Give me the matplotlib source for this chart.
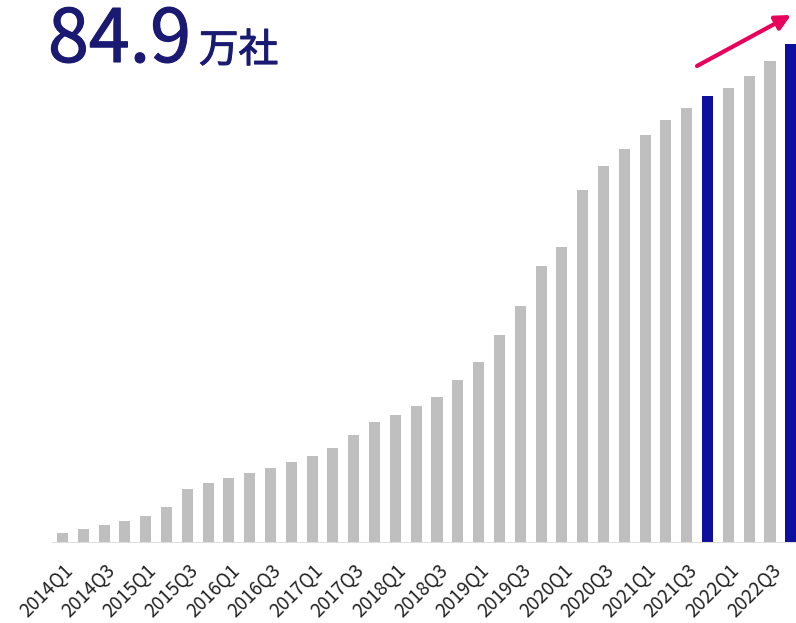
import matplotlib.pyplot as plt
import matplotlib.patheffects as pe
import numpy as np

plt.rcParams['font.family'] = ['Noto Sans CJK JP', 'DejaVu Sans']

# Data (万社)
quarters = [f'{y}Q{q}' for y in range(2014, 2023) for q in range(1, 5)]
values = [1.7, 2.4, 3.1, 3.7, 4.6, 6.1, 9.2, 10.2, 11.1, 11.9, 12.8, 13.8,
          14.8, 16.2, 18.4, 20.6, 21.8, 23.3, 24.8, 27.7, 30.8, 35.4, 40.3, 47.1,
          50.4, 60.1, 64.1, 67.0, 69.4, 72.0, 74.0, 76.1, 77.4, 79.5, 82.0, 84.9]
highlight = ['2021Q4', '2022Q4']
headline = '84.9'
unit = '万社'

gray = '#bfbfbf'
blue = '#0f0f9e'
navy = '#1b1a72'
pink = '#e8005a'

fig = plt.figure(figsize=(7.96, 6.23), dpi=100)
ax = fig.add_axes([52 / 796, 80 / 623, 744 / 796, 543 / 623])

x = np.arange(len(quarters))
colors = [blue if q in highlight else gray for q in quarters]
ax.bar(x, values, width=0.53, color=colors, zorder=2)
ax.axhline(0, color='#dddddd', lw=2.2, zorder=3)

ax.set_xlim(-0.5, len(quarters) - 0.75)
ax.set_ylim(0, values[-1] * 543 / 499)

for s in ax.spines.values():
    s.set_visible(False)
ax.set_yticks([])
ax.set_xticks(x[::2])
ax.set_xticklabels(quarters[::2], rotation=45, ha='right', rotation_mode='anchor',
                   fontsize=13.5, color='#222222')
ax.tick_params(axis='x', length=0, pad=12)

# headline (regular weight thickened a little)
thick = [pe.withStroke(linewidth=0.8, foreground=navy)]
fig.text(48 / 796, 1 - 62 / 623, headline, fontsize=53, color=navy,
         ha='left', va='baseline', path_effects=thick)
fig.text(199 / 796, 1 - 62 / 623, unit, fontsize=28.5, color=navy,
         ha='left', va='baseline', path_effects=thick)

# growth arrow
ax.annotate('', xy=(791 / 796, 1 - 15 / 623), xytext=(697 / 796, 1 - 66 / 623),
            xycoords='figure fraction', textcoords='figure fraction',
            arrowprops=dict(arrowstyle='-|>,head_length=0.9,head_width=0.45',
                            color=pink, lw=3, shrinkA=0, shrinkB=0))

fig.savefig('out.png', dpi=100)
